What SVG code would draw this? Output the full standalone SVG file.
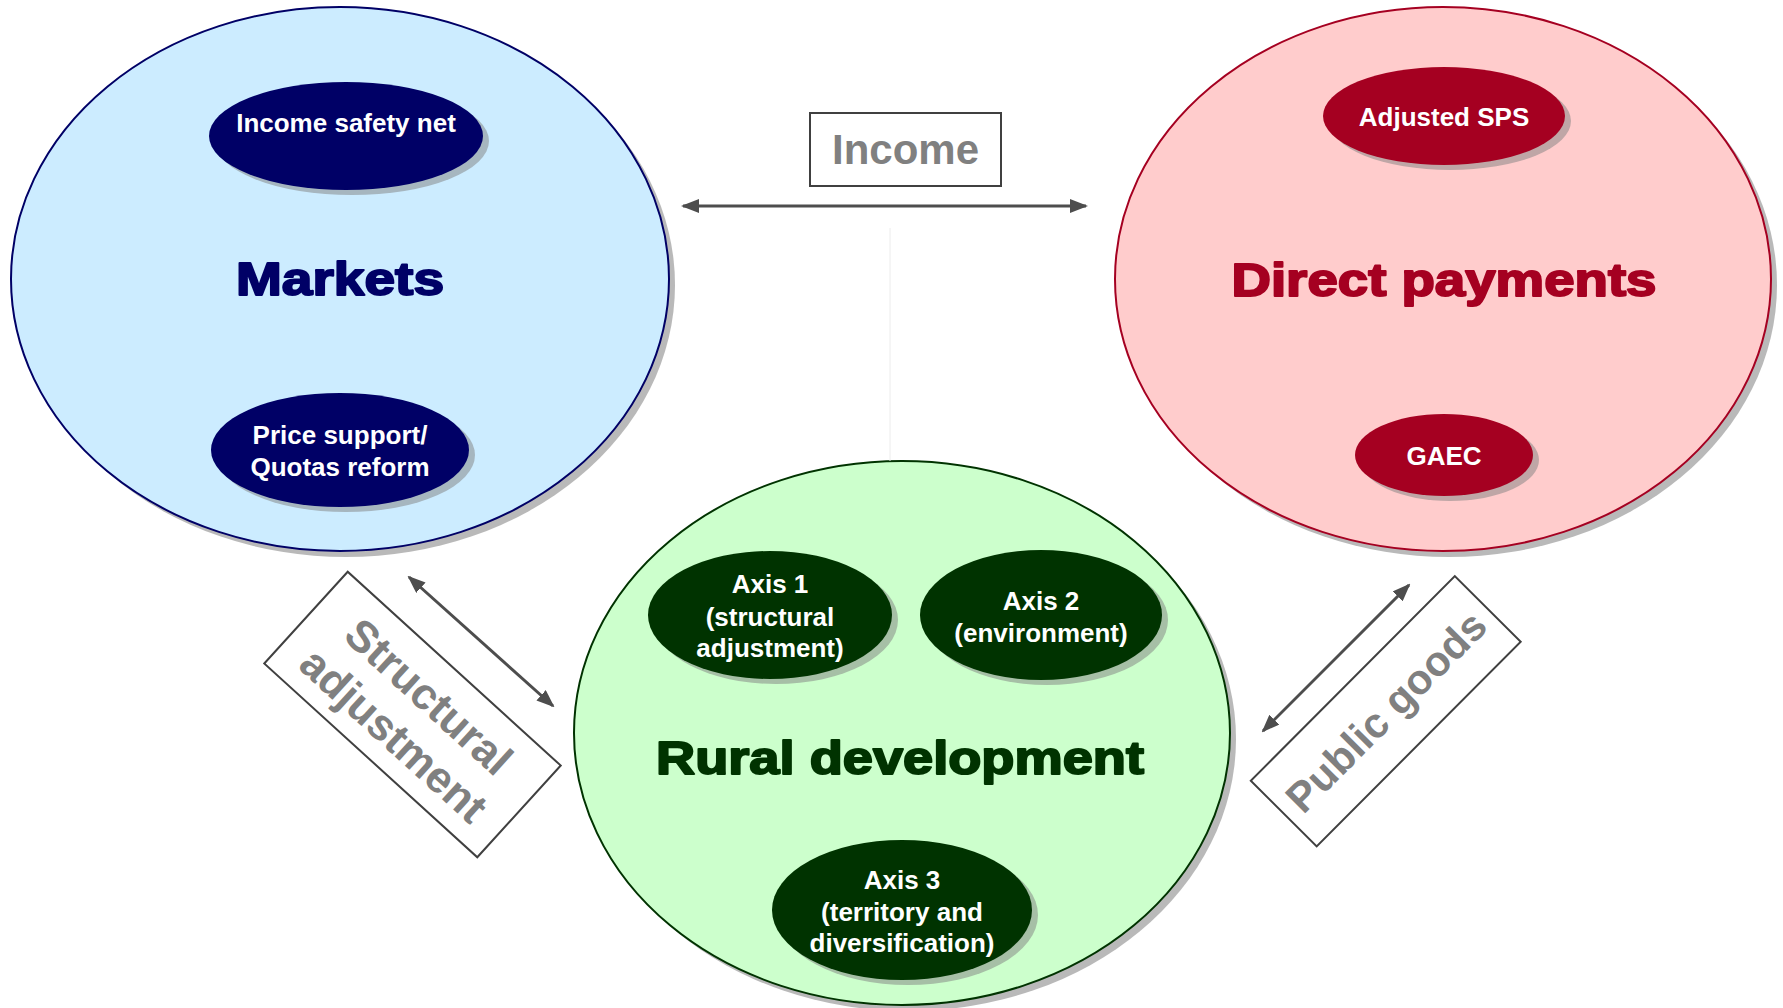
<svg xmlns="http://www.w3.org/2000/svg" width="1783" height="1008" viewBox="0 0 1783 1008">
  <style>
    .shadow { fill: #808080; opacity: 0.55; }
    .ishadow { fill: #808080; opacity: 0.5; }
    .lbl { font-family: "Liberation Sans", Arial, sans-serif; font-weight: bold; font-size: 26px; fill: #ffffff; text-anchor: middle; }
    .title { font-family: "Liberation Sans", Arial, sans-serif; font-weight: bold; font-size: 47px; text-anchor: middle; stroke-width: 2; stroke-linejoin: round; }
    .grey { font-family: "Liberation Sans", Arial, sans-serif; font-weight: bold; fill: #808080; text-anchor: middle; }
    .box { fill: #ffffff; stroke: #404040; stroke-width: 2; }
    .conn { stroke: #4d4d4d; stroke-width: 3; fill: none; marker-start: url(#ah); marker-end: url(#ah); }
  </style>
  <defs>
    <marker id="ah" viewBox="0 0 18 14" refX="16" refY="7" markerWidth="18" markerHeight="14" markerUnits="userSpaceOnUse" orient="auto-start-reverse">
      <path d="M0,0 L18,7 L0,14 z" fill="#4d4d4d"/>
    </marker>
  </defs>
  <rect width="1783" height="1008" fill="#ffffff"/>

  <g id="markets">
    <ellipse class="shadow" cx="346" cy="285" rx="329" ry="272"/>
    <ellipse cx="340" cy="279" rx="329" ry="272" fill="#CCECFF" stroke="#000066" stroke-width="2"/>
    <text class="title" x="340" y="295" fill="#000066" stroke="#000066" textLength="208" lengthAdjust="spacingAndGlyphs">Markets</text>
  </g>
  <g id="income-safety-net">
    <ellipse class="ishadow" cx="352" cy="141" rx="137" ry="54"/>
    <ellipse cx="346" cy="136" rx="137" ry="54" fill="#000066"/>
    <text class="lbl" x="346" y="132">Income safety net</text>
  </g>
  <g id="price-support">
    <ellipse class="ishadow" cx="346" cy="455" rx="129" ry="57"/>
    <ellipse cx="340" cy="450" rx="129" ry="57" fill="#000066"/>
    <text class="lbl" x="340" y="444">Price support/</text>
    <text class="lbl" x="340" y="476">Quotas reform</text>
  </g>

  <g id="direct-payments">
    <ellipse class="shadow" cx="1449" cy="285" rx="328" ry="272"/>
    <ellipse cx="1443" cy="279" rx="328" ry="272" fill="#FFCCCC" stroke="#A50021" stroke-width="2"/>
    <text class="title" x="1444" y="296" fill="#A50021" stroke="#A50021" textLength="425" lengthAdjust="spacingAndGlyphs">Direct payments</text>
  </g>
  <g id="adjusted-sps">
    <ellipse class="ishadow" cx="1450" cy="121" rx="121" ry="49"/>
    <ellipse cx="1444" cy="116" rx="121" ry="49" fill="#A50021"/>
    <text class="lbl" x="1444" y="126">Adjusted SPS</text>
  </g>
  <g id="gaec">
    <ellipse class="ishadow" cx="1450" cy="460" rx="89" ry="41"/>
    <ellipse cx="1444" cy="455" rx="89" ry="41" fill="#A50021"/>
    <text class="lbl" x="1444" y="465">GAEC</text>
  </g>

  <g id="rural-development">
    <ellipse class="shadow" cx="908" cy="739" rx="328" ry="272"/>
    <ellipse cx="902" cy="733" rx="328" ry="272" fill="#CCFFCC" stroke="#003300" stroke-width="2"/>
    <text class="title" x="900" y="774" fill="#003300" stroke="#003300" textLength="488" lengthAdjust="spacingAndGlyphs">Rural development</text>
  </g>
  <g id="axis1">
    <ellipse class="ishadow" cx="776" cy="620" rx="122" ry="64"/>
    <ellipse cx="770" cy="615" rx="122" ry="64" fill="#003300"/>
    <text class="lbl" x="770" y="593">Axis 1</text>
    <text class="lbl" x="770" y="626">(structural</text>
    <text class="lbl" x="770" y="657">adjustment)</text>
  </g>
  <g id="axis2">
    <ellipse class="ishadow" cx="1047" cy="620" rx="121" ry="65"/>
    <ellipse cx="1041" cy="615" rx="121" ry="65" fill="#003300"/>
    <text class="lbl" x="1041" y="610">Axis 2</text>
    <text class="lbl" x="1041" y="642">(environment)</text>
  </g>
  <g id="axis3">
    <ellipse class="ishadow" cx="908" cy="915" rx="130" ry="70"/>
    <ellipse cx="902" cy="910" rx="130" ry="70" fill="#003300"/>
    <text class="lbl" x="902" y="889">Axis 3</text>
    <text class="lbl" x="902" y="921">(territory and</text>
    <text class="lbl" x="902" y="952">diversification)</text>
  </g>

  <g id="connectors">
    <line x1="890" y1="228" x2="890" y2="461" stroke="#ececec" stroke-width="1"/>
    <line class="conn" x1="683" y1="206" x2="1086" y2="206"/>
    <line class="conn" x1="409" y1="577" x2="553" y2="706"/>
    <line class="conn" x1="1409" y1="585" x2="1263" y2="731"/>
  </g>

  <g id="income-label">
    <rect class="box" x="810" y="113" width="191" height="73"/>
    <text class="grey" x="905.5" y="164" font-size="42">Income</text>
  </g>
  <g id="structural-adjustment-label" transform="translate(412.5,714.5) rotate(42.3)">
    <rect class="box" x="-144" y="-62" width="288" height="124"/>
    <text class="grey" x="0" y="-9" font-size="44">Structural</text>
    <text class="grey" x="0" y="43" font-size="44">adjustment</text>
  </g>
  <g id="public-goods-label" transform="translate(1385.75,711.25) rotate(-45.1)">
    <rect class="box" x="-144.5" y="-46.5" width="289" height="93"/>
    <text class="grey" x="0" y="15" font-size="42">Public goods</text>
  </g>
</svg>
